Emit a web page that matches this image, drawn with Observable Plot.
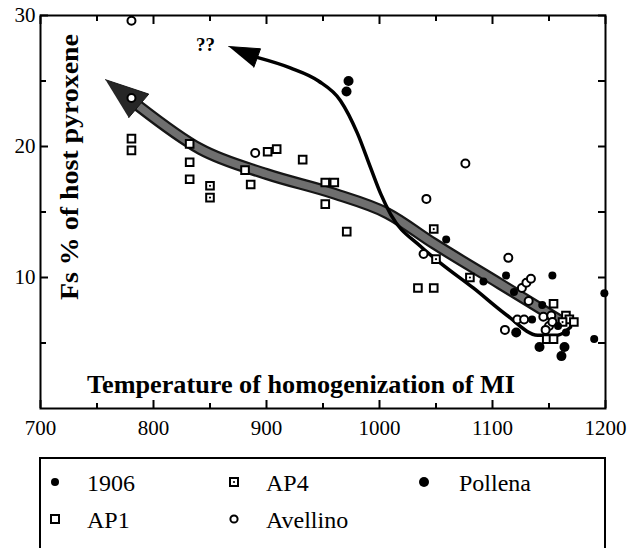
<!DOCTYPE html>
<html><head><meta charset="utf-8">
<script src="https://cdn.jsdelivr.net/npm/d3@7"></script>
<script src="https://cdn.jsdelivr.net/npm/@observablehq/plot@0.6"></script>
<style>
body{margin:0;background:#fff;font-family:"Liberation Serif","Times New Roman",serif;}
#wrap{position:relative;width:629px;height:548px;overflow:hidden;background:#fff;}
#legend{position:absolute;left:39px;top:457px;width:567px;height:93px;border:2px solid #000;box-sizing:border-box;}
.item{position:absolute;font-size:24px;line-height:24px;height:24px;white-space:nowrap;}
.item svg{position:absolute;top:0;}
</style></head><body><div id="wrap"></div>
<script>
// axis ticks and labels
const xMajor = [700, 800, 900, 1000, 1100, 1200];
const xMinor = [750, 850, 950, 1050, 1150];
const yMajor = [10, 20, 30];
const yMinor = [5, 15, 25];
const xLabel = "Temperature of homogenization of MI";
const yLabel = "Fs % of host pyroxene";
const qLabel = "??";
const seriesNames = ["1906", "AP4", "Pollena", "AP1", "Avellino"];

// series values [temperature, Fs %]
const s1906 = [[1059,12.9],[1092,9.7],[1112,10.15],[1153,10.15],[1119,8.9],[1144,7.9],[1135,6.8],[1165,5.8],[1190,5.3],[1199,8.8],[1158,6.3]];
const ap4 = [[850,17.0],[850,16.1],[1048,13.7],[1050,11.4],[1080,10.0],[1162,6.6]];
const pollena = [[972.6,25.0],[970.8,24.2],[1121,5.8],[1141.6,4.7],[1163.7,4.7],[1161,4.0]];
const ap1 = [[780.5,20.6],[780.5,19.7],[832,20.2],[832,18.8],[832,17.5],[881,18.2],[886,17.1],[901,19.6],[909,19.8],[932,19.0],[952,17.25],[960,17.25],[952,15.6],[971,13.5],[1034,9.2],[1048,9.2],[1154,8.0],[1165,7.1],[1168,6.8],[1172,6.6],[1148,5.3],[1154,5.3]];
const avellino = [[780.5,29.6],[780.5,23.7],[890,19.5],[1041.5,16.0],[1076,18.7],[1039,11.8],[1114,11.5],[1126,9.2],[1130,9.6],[1134,9.9],[1132,8.2],[1122,6.8],[1128,6.8],[1145,7.0],[1152,7.1],[1150,6.3],[1147,6.0],[1111,6.0],[1153,6.6]];

// trend arrows
const grayPath = [[786.7,23.1],[841.6,19.8],[900,17.9],[960,16.4],[1007,14.9],[1048,12.6],[1107,9.5],[1160,6.7]];
const grayHead = [[757.5,25.1],[795.8,24.0],[778.1,22.2]];
const blackPath = [[891.6,26.8],[921,26.0],[946,25.0],[965.5,23.5],[980.5,21.0],[992,18.4],[1001,16.4],[1010,14.8],[1036,12.4],[1054,11.1],[1083,9.2],[1113,7.1],[1140,5.6],[1157.5,5.6],[1169,6.2]];
const blackHead = [[866.6,27.63],[894.7,27.46],[888.8,26.05]];

const W = 629, H = 445, mL = 40, mR = 24, mT = 15, mB = 37;
const X = d => d[0], Y = d => d[1], V = d => d, blank = () => "";
const tick = {tickFormat: blank, strokeWidth: 2};
const chart = Plot.plot({
  width: W, height: H,
  marginLeft: mL, marginRight: mR, marginTop: mT, marginBottom: mB,
  style: {fontFamily: "Liberation Serif, Times New Roman, serif", fontSize: "21px", color: "black", background: "white"},
  x: {domain: [700, 1200]},
  y: {domain: [0, 30]},
  marks: [
    // gray band arrow
    Plot.line(grayPath, {x: X, y: Y, curve: "monotone-x", stroke: "#161616", strokeWidth: 12}),
    Plot.line(grayPath, {x: X, y: Y, curve: "monotone-x", stroke: "#6f6f6f", strokeWidth: 7.5}),
    Plot.line(grayHead, {x: X, y: Y, fill: "#262626", stroke: "#161616", strokeWidth: 1}),
    // black arrow
    Plot.line(blackPath, {x: X, y: Y, curve: "monotone-x", stroke: "black", strokeWidth: 3.5}),
    Plot.line(blackHead, {x: X, y: Y, fill: "black", stroke: "black", strokeWidth: 1}),
    // points
    Plot.dot(ap1, {x: X, y: Y, symbol: "square", r: 4.3, stroke: "black", strokeWidth: 2, fill: "white"}),
    Plot.dot(ap4, {x: X, y: Y, symbol: "square", r: 4.3, stroke: "black", strokeWidth: 2, fill: "white"}),
    Plot.dot(ap4, {x: X, y: Y, r: 1.1, fill: "black"}),
    Plot.dot(avellino, {x: X, y: Y, r: 4, stroke: "black", strokeWidth: 2, fill: "white"}),
    Plot.dot(s1906, {x: X, y: Y, r: 4, fill: "black"}),
    Plot.dot(pollena, {x: X, y: Y, r: 5, fill: "black"}),
    // inward ticks on all four sides (outward ticks shifted inside)
    Plot.axisX({ticks: xMajor, tickSize: 8, dy: -8, ...tick}),
    Plot.axisX({ticks: xMinor, tickSize: 5, dy: -5, ...tick}),
    Plot.axisX({anchor: "top", ticks: xMajor, tickSize: 8, dy: 8, ...tick}),
    Plot.axisX({anchor: "top", ticks: xMinor, tickSize: 5, dy: 5, ...tick}),
    Plot.axisY({ticks: yMajor, tickSize: 8, dx: 8, ...tick}),
    Plot.axisY({ticks: yMinor, tickSize: 6, dx: 6, ...tick}),
    Plot.axisY({anchor: "right", ticks: yMajor, tickSize: 8, dx: -8, ...tick}),
    Plot.axisY({anchor: "right", ticks: yMinor, tickSize: 8, dx: -8, ...tick}),
    // frame and tick labels
    Plot.frame({stroke: "black", strokeWidth: 2}),
    Plot.axisX({ticks: xMajor, tickSize: 0, tickPadding: 12, fontSize: 21, tickFormat: d => String(d)}),
    Plot.axisY({ticks: yMajor, tickSize: 0, tickPadding: 5, fontSize: 21, tickFormat: d => String(d)}),
    // labels inside plot
    Plot.text([xLabel], {text: V, frameAnchor: "bottom", textAnchor: "middle", dx: -22, dy: -24, lineAnchor: "middle", fontWeight: "bold", fontSize: 26}),
    Plot.text([yLabel], {text: V, frameAnchor: "left", textAnchor: "middle", dx: 29, dy: -45, rotate: -90, lineAnchor: "middle", fontWeight: "bold", fontSize: 26}),
    Plot.text([qLabel], {text: V, frameAnchor: "top-left", textAnchor: "middle", dx: 165, dy: 29, lineAnchor: "middle", fontWeight: "bold", fontSize: 19})
  ]
});
chart.querySelectorAll("text").forEach(t => {
  if (t.textContent === xLabel) { t.setAttribute("textLength", 428); t.setAttribute("lengthAdjust", "spacingAndGlyphs"); }
  if (t.textContent === yLabel) { t.setAttribute("textLength", 266); t.setAttribute("lengthAdjust", "spacingAndGlyphs"); }
});
const wrap = document.getElementById("wrap");
wrap.appendChild(chart);

// legend
const sym = {
  "1906": '<circle cx="8" cy="8" r="4" fill="black"/>',
  "Pollena": '<circle cx="8" cy="8" r="5" fill="black"/>',
  "AP1": '<rect x="4" y="4" width="8" height="8" fill="white" stroke="black" stroke-width="2"/>',
  "AP4": '<rect x="4" y="4" width="8" height="8" fill="white" stroke="black" stroke-width="2"/><circle cx="8" cy="8" r="1.1" fill="black"/>',
  "Avellino": '<circle cx="8" cy="8" r="3.6" fill="white" stroke="black" stroke-width="2"/>'
};
const legendPos = {"1906": [6, 12], "AP4": [185, 12], "Pollena": [375, 12], "AP1": [6, 49], "Avellino": [185, 49]};
const legend = document.createElement("div");
legend.id = "legend";
seriesNames.forEach(name => {
  const [lx, ly] = legendPos[name];
  const it = document.createElement("div");
  it.className = "item";
  it.style.left = lx + "px"; it.style.top = ly + "px";
  it.innerHTML = `<svg width="16" height="16" style="left:0;top:3px">${sym[name]}</svg><span style="position:absolute;left:${name === "Pollena" ? 43 : 40}px;top:0">${name}</span>`;
  legend.appendChild(it);
});
wrap.appendChild(legend);
</script></body></html>
